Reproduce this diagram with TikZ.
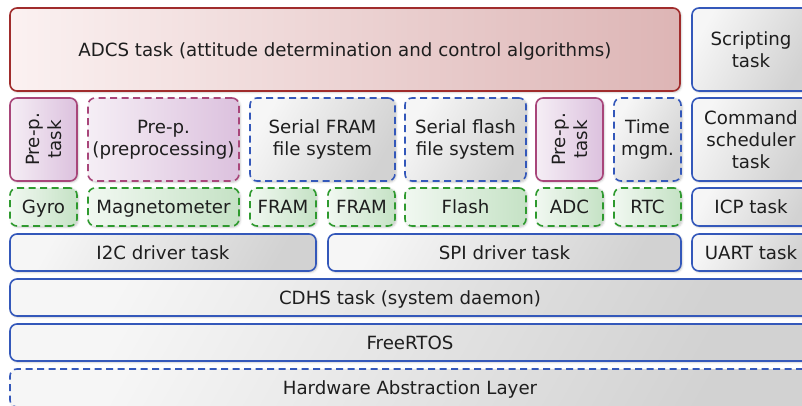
\documentclass[tikz,border=0pt]{standalone}
\usepackage{fontspec}
\setmainfont{DejaVu Sans}
\usetikzlibrary{shadows.blur}

\definecolor{txt}{HTML}{1E1E1E}
\definecolor{blueline}{HTML}{3458BA}
\definecolor{greenline}{HTML}{2F9A2F}
\definecolor{redline}{HTML}{A02C2C}
\definecolor{purpleline}{HTML}{A8467A}
\definecolor{grayA}{HTML}{F6F6F6}
\definecolor{grayB}{HTML}{D2D2D2}
\definecolor{redA}{HTML}{FBF1F1}
\definecolor{redB}{HTML}{DDB5B5}
\definecolor{greenA}{HTML}{F1F8F1}
\definecolor{greenB}{HTML}{C5E2C5}
\definecolor{purpA}{HTML}{F5EEF5}
\definecolor{purpB}{HTML}{DCC1DE}

\tikzset{
  layerbox/.style={rectangle, rounded corners=7pt, line width=1.6pt,
    inner sep=0pt, outer sep=0pt, anchor=north west, align=center,
    font=\fontsize{18.2}{22}\selectfont, text=txt,
    blur shadow={shadow xshift=1.2pt, shadow yshift=-1.2pt,
      shadow blur radius=2pt, shadow opacity=22}},
  oneline/.style={text height=13.3pt, text depth=0pt},
  dashedline/.style={dash pattern=on 7pt off 4.5pt},
  graybox/.style={layerbox, draw=blueline, top color=grayA, bottom color=grayB, shading angle=60},
  grayboxdash/.style={graybox, dashedline},
  redbox/.style={layerbox, draw=redline, left color=redA, right color=redB},
  purplebox/.style={layerbox, draw=purpleline, left color=purpA, right color=purpB},
  purpleboxdash/.style={purplebox, dashedline},
  greenbox/.style={layerbox, oneline, draw=greenline, left color=greenA, right color=greenB, dashedline},
  sidelabel/.style={rotate=90, align=center, font=\fontsize{18.2}{22}\selectfont, text=txt, inner sep=0pt}
}

\begin{document}
\begin{tikzpicture}[x=1pt, y=-1pt]
\useasboundingbox (0,0) rectangle (802,405);
\clip (0,0) rectangle (802,405);

% top row: applications
\node[redbox, oneline, minimum width=670, minimum height=83] (adcs) at (10,8)
  {ADCS task (attitude determination and control algorithms)};
\node[graybox, minimum width=118, minimum height=83] (script) at (692,8)
  {Scripting\\task};

% second row: services and file systems
\node[purplebox, minimum width=67, minimum height=83] (prepA) at (10,98) {};
\node[sidelabel] (prepAtxt) at (prepA.center) {Pre-p.\\task};
\node[purpleboxdash, minimum width=151, minimum height=83] (prep) at (88,98)
  {Pre-p.\\(preprocessing)};
\node[grayboxdash, minimum width=145, minimum height=83] (sfram) at (250,98)
  {Serial FRAM\\file system};
\node[grayboxdash, minimum width=121, minimum height=83] (sflash) at (405,98)
  {Serial flash\\file system};
\node[purplebox, minimum width=67, minimum height=83] (prepB) at (536,98) {};
\node[sidelabel] (prepBtxt) at (prepB.center) {Pre-p.\\task};
\node[grayboxdash, minimum width=67, minimum height=83] (time) at (614,98)
  {Time\\mgm.};
\node[graybox, minimum width=118, minimum height=83] (cmd) at (692,98)
  {Command\\scheduler\\task};

% third row: device drivers
\node[greenbox, minimum width=67, minimum height=38] (gyro) at (10,188) {Gyro};
\node[greenbox, minimum width=151, minimum height=38] (mag) at (88,188) {Magnetometer};
\node[greenbox, minimum width=66, minimum height=38] (framA) at (250,188) {FRAM};
\node[greenbox, minimum width=67, minimum height=38] (framB) at (328,188) {FRAM};
\node[greenbox, minimum width=121, minimum height=38] (flash) at (405,188) {Flash};
\node[greenbox, minimum width=67, minimum height=38] (adc) at (536,188) {ADC};
\node[greenbox, minimum width=67, minimum height=38] (rtc) at (614,188) {RTC};
\node[graybox, oneline, minimum width=118, minimum height=38] (icp) at (692,188) {ICP task};

% fourth row: bus driver tasks
\node[graybox, oneline, minimum width=306, minimum height=37] (i2c) at (10,234) {I2C driver task};
\node[graybox, oneline, minimum width=353, minimum height=37] (spi) at (328,234) {SPI driver task};
\node[graybox, oneline, minimum width=118, minimum height=37] (uart) at (692,234) {UART task};

% base layers
\node[graybox, oneline, minimum width=800, minimum height=37] (cdhs) at (10,279) {CDHS task (system daemon)};
\node[graybox, oneline, minimum width=800, minimum height=37] (rtos) at (10,324) {FreeRTOS};
\node[grayboxdash, oneline, minimum width=800, minimum height=38] (hal) at (10,369) {Hardware Abstraction Layer};
\end{tikzpicture}
\end{document}
